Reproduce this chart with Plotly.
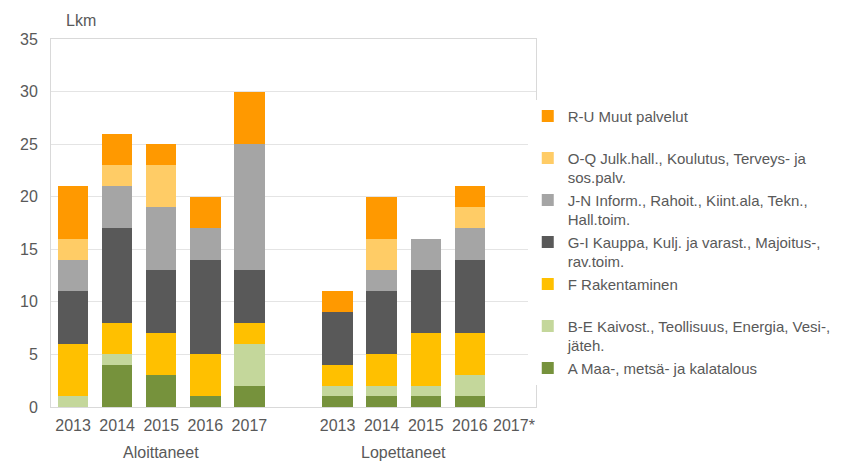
import plotly.graph_objects as go

# Categories: 5 years (Aloittaneet), a blank gap slot, 5 years (Lopettaneet)
tick_labels = ["2013", "2014", "2015", "2016", "2017", "",
               "2013", "2014", "2015", "2016", "2017*"]
group_labels = ["Aloittaneet", "Lopettaneet"]

series_names = [
    "A Maa-, metsä- ja kalatalous",
    "B-E Kaivost., Teollisuus, Energia, Vesi-,<br>jäteh.",
    "F Rakentaminen<br> ",
    "G-I Kauppa, Kulj. ja varast., Majoitus-,<br>rav.toim.",
    "J-N Inform., Rahoit., Kiint.ala, Tekn.,<br>Hall.toim.",
    "O-Q Julk.hall., Koulutus, Terveys- ja<br>sos.palv.",
    "R-U Muut palvelut<br> ",
]
colors = ["#76923C", "#C4D79B", "#FFC000", "#595959", "#A5A5A5", "#FFCC66", "#FF9900"]

# values per series: 5 Aloittaneet, gap (None), 5 Lopettaneet
A_vals  = [0, 4, 3, 1, 2, None, 1, 1, 1, 1, 0]
BE_vals = [1, 1, 0, 0, 4, None, 1, 1, 1, 2, 0]
F_vals  = [5, 3, 4, 4, 2, None, 2, 3, 5, 4, 0]
GI_vals = [5, 9, 6, 9, 5, None, 5, 6, 6, 7, 0]
JN_vals = [3, 4, 6, 3, 12, None, 0, 2, 3, 3, 0]
OQ_vals = [2, 2, 4, 0, 0, None, 0, 3, 0, 2, 0]
RU_vals = [5, 3, 2, 3, 5, None, 2, 4, 0, 2, 0]

all_vals = [A_vals, BE_vals, F_vals, GI_vals, JN_vals, OQ_vals, RU_vals]
xpos = list(range(len(tick_labels)))

FONT = "Liberation Sans, Arial, sans-serif"
TXT = "#595959"

W, H = 859, 453
ML, MT, PW, PH = 37, 31, 491, 368

fig = go.Figure()
for name, col, vals in zip(series_names, colors, all_vals):
    fig.add_trace(go.Bar(x=xpos, y=vals, name=name, marker_color=col,
                         marker_line_width=0))

fig.update_layout(
    barmode="stack",
    bargap=0.31,
    width=W, height=H,
    margin=dict(l=ML, r=W - ML - PW, t=MT, b=H - MT - PH),
    plot_bgcolor="white", paper_bgcolor="white",
    font=dict(family=FONT, color=TXT, size=16),
    showlegend=True,
    legend=dict(traceorder="reversed", x=0.983, xanchor="left", y=0.835, yanchor="top",
                font=dict(size=15, color=TXT, family=FONT), valign="top",
                tracegroupgap=0, itemwidth=30),
    xaxis=dict(range=[-0.5, 10.5], tickmode="array", tickvals=xpos, ticktext=tick_labels,
               showgrid=False, showline=True, linecolor="#D9D9D9", mirror=True,
               ticks="outside", ticklen=4, tickcolor="rgba(0,0,0,0)",
               tickfont=dict(size=16, color=TXT), zeroline=False),
    yaxis=dict(range=[0, 35], dtick=5, showgrid=True, gridcolor="#E4E4E4",
               showline=True, linecolor="#D9D9D9", mirror=True,
               tickfont=dict(size=16, color=TXT), zeroline=False,
               ticks="outside", ticklen=9, tickcolor="rgba(0,0,0,0)"),
)

fig.add_annotation(text="Lkm", xref="paper", yref="paper", x=30 / PW, y=(PH + 19) / PH,
                   showarrow=False, font=dict(size=16, color=TXT), xanchor="center", yanchor="middle")
fig.add_annotation(text=group_labels[0], x=2, xref="x", yref="paper", y=-45 / PH,
                   showarrow=False, font=dict(size=16, color=TXT), yanchor="middle")
fig.add_annotation(text=group_labels[1], x=7.5, xref="x", yref="paper", y=-45 / PH,
                   showarrow=False, font=dict(size=16, color=TXT), yanchor="middle")

fig.write_html("out.html")
